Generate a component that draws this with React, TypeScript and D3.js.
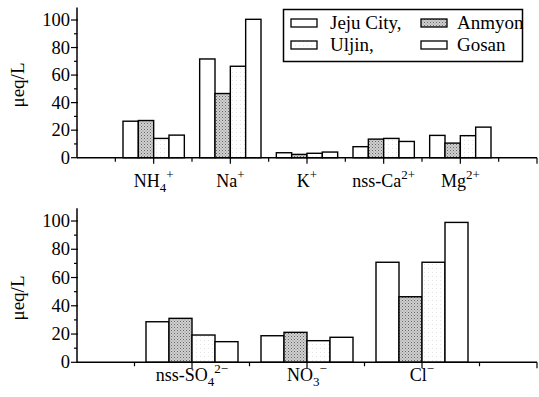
import * as d3 from "d3"
import React from "react"

const series = ["Jeju City,", "Anmyon", "Uljin,", "Gosan"]
const topCats = ["NH4+", "Na+", "K+", "nss-Ca2+", "Mg2+"]
const topJeju = [26.5, 71.7, 3.6, 8, 16.2]
const topAnmyon = [27, 46.6, 2.4, 13.5, 10.6]
const topUljin = [14, 66.4, 3.2, 14, 16]
const topGosan = [16.4, 100.5, 4.1, 11.8, 22.2]
const botCats = ["nss-SO42-", "NO3-", "Cl-"]
const botJeju = [28.7, 18.8, 70.8]
const botAnmyon = [31.1, 21.2, 46.4]
const botUljin = [19.3, 15.3, 70.8]
const botGosan = [14.6, 17.7, 99]
const yTickVals = [0, 20, 40, 60, 80, 100]

const font = "'Liberation Serif', 'DejaVu Serif', serif"
const fills = ["#fff", "url(#stipple)", "url(#faint)", "#fff"]

// label pieces: [text, kind] kind: n normal, sub, sup
const labelParts: Record<string, [string, string][]> = {
  "NH4+": [["NH", "n"], ["4", "sub"], ["+", "sup"]],
  "Na+": [["Na", "n"], ["+", "sup"]],
  "K+": [["K", "n"], ["+", "sup"]],
  "nss-Ca2+": [["nss-Ca", "n"], ["2+", "sup"]],
  "Mg2+": [["Mg", "n"], ["2+", "sup"]],
  "nss-SO42-": [["nss-SO", "n"], ["4", "sub"], ["2\u2212", "sup"]],
  "NO3-": [["NO", "n"], ["3", "sub"], ["\u2212", "sup"]],
  "Cl-": [["Cl", "n"], ["\u2212", "sup"]],
}

const CatLabel = ({ x, y, name }) => {
  const parts = labelParts[name]
  let prev = "n"
  return (
    <text x={x} y={y} textAnchor="middle" fontFamily={font} fontSize={18}>
      {parts.map(([t, k], i) => {
        let dy = 0
        if (k === "sub") dy = prev === "n" ? 5 : 0
        if (k === "sup") dy = prev === "sub" ? -13 : prev === "n" ? -8 : 0
        prev = k
        return (
          <tspan key={i} dy={dy} fontSize={k === "n" ? 18 : 13}>{t}</tspan>
        )
      })}
    </text>
  )
}

const Panel = ({ cats, data, yTop, yZero, labelY, yLabelY }) => {
  const x = d3.scaleLinear().domain([0, cats.length + 1]).range([77, 537])
  const y = d3.scaleLinear().domain([0, 100]).range([yZero, yTop])
  const unit = x(1) - x(0)
  const bw = unit * 0.2
  const xTicks = d3.range(1, (cats.length + 1) * 2 + 1).map(d => d / 2)
  const yMinor = d3.range(10, 101, 20)
  return (
    <g>
      {cats.map((c, i) =>
        data.map((vals, j) => (
          <rect
            key={c + j}
            x={x(i + 1) - unit * 0.4 + j * bw}
            y={y(vals[i])}
            width={bw}
            height={y(0) - y(vals[i])}
            fill={fills[j]}
            stroke="#000"
            strokeWidth={1.4}
          />
        ))
      )}
      <line x1={77} x2={537} y1={y(0)} y2={y(0)} stroke="#000" strokeWidth={1.5} />
      <line x1={77} x2={77} y1={y(0)} y2={y(109)} stroke="#000" strokeWidth={1.5} />
      {xTicks.map(t => (
        <line key={t} x1={x(t)} x2={x(t)} y1={y(0)} y2={y(0) + (t % 1 === 0 ? 6 : 4)} stroke="#000" strokeWidth={1.2} />
      ))}
      {yTickVals.map(t => (
        <g key={t}>
          <line x1={71} x2={78} y1={y(t)} y2={y(t)} stroke="#000" strokeWidth={1.2} />
          <text x={70} y={y(t) + 6} textAnchor="end" fontFamily={font} fontSize={18.5}>{t}</text>
        </g>
      ))}
      {yMinor.map(t => (
        <line key={t} x1={74} x2={77} y1={y(t)} y2={y(t)} stroke="#000" strokeWidth={1.2} />
      ))}
      {cats.map((c, i) => (
        <CatLabel key={c} x={x(i + 1)} y={labelY} name={c} />
      ))}
      <text transform={`translate(24,${yLabelY}) rotate(-90)`} textAnchor="middle" fontFamily={font} fontSize={19}>μeq/L</text>
    </g>
  )
}

export default function App() {
  const legendRows = [[0, 1], [2, 3]]
  return (
    <svg width={539} height={397} style={{ position: "absolute", left: 0, top: 0, background: "#fff" }}>
      <defs>
        <pattern id="stipple" width={3} height={3} patternUnits="userSpaceOnUse">
          <rect width={3} height={3} fill="#d0d0d0" />
          <rect x={0} y={0} width={1} height={1} fill="#666" />
          <rect x={1.5} y={1.5} width={1} height={1} fill="#888" />
        </pattern>
        <pattern id="faint" width={4} height={4} patternUnits="userSpaceOnUse">
          <rect width={4} height={4} fill="#fff" />
          <rect x={0} y={0} width={1} height={1} fill="#e4e4e4" />
        </pattern>
      </defs>
      <Panel cats={topCats} data={[topJeju, topAnmyon, topUljin, topGosan]} yTop={20} yZero={157.7} labelY={187} yLabelY={85} />
      <Panel cats={botCats} data={[botJeju, botAnmyon, botUljin, botGosan]} yTop={221} yZero={362.3} labelY={381} yLabelY={298} />
      <rect x={283.5} y={9.5} width={239} height={52} fill="#fff" stroke="#000" strokeWidth={1.5} />
      {legendRows.map((row, r) =>
        row.map((s, c) => (
          <g key={s} transform={`translate(${c === 0 ? 291 : 421},${r === 0 ? 19 : 41})`}>
            <rect width={26} height={8} fill={fills[s]} stroke="#000" strokeWidth={1.3} />
            <text x={c === 0 ? 39 : 36} y={10} fontFamily={font} fontSize={19}>{series[s]}</text>
          </g>
        ))
      )}
    </svg>
  )
}
